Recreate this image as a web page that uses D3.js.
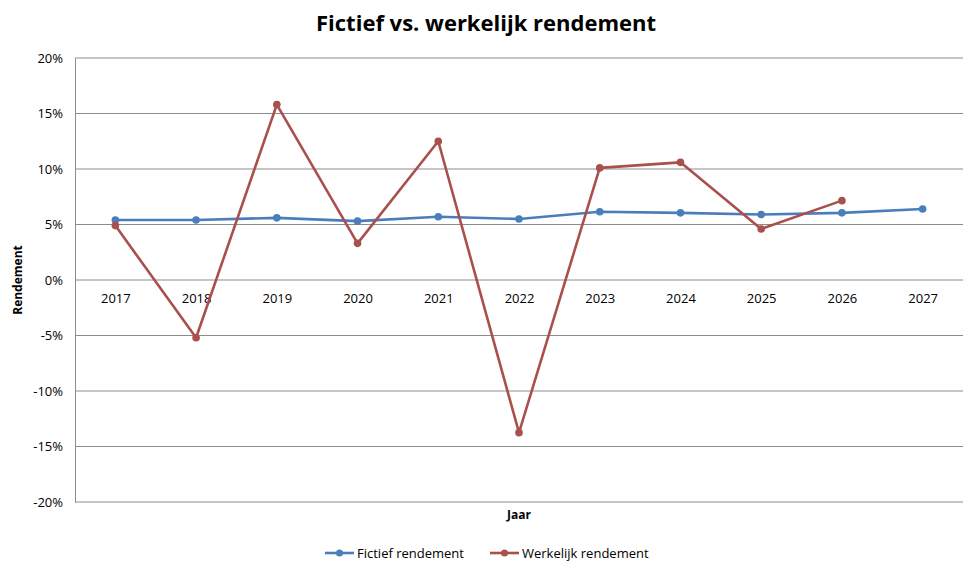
<!DOCTYPE html>
<html lang="nl">
<head>
<meta charset="utf-8">
<title>Fictief vs. werkelijk rendement</title>
<script src="https://d3js.org/d3.v7.min.js"></script>
<style>
  body { margin: 0; background: #fff; }
  svg text { font-family: "Open Sans", "Noto Sans", sans-serif; fill: #000; }
  .grid line { stroke: #8c8c8c; stroke-width: 1px; }
  .line { fill: none; stroke-width: 2.6px; stroke-linejoin: round; }
</style>
</head>
<body>
<svg width="973" height="573"></svg>
<script>
var jaren = ["2017", "2018", "2019", "2020", "2021", "2022", "2023", "2024", "2025", "2026", "2027"];
var fictief = [5.4, 5.4, 5.6, 5.3, 5.7, 5.5, 6.15, 6.05, 5.9, 6.05, 6.4];
var werkelijk = [4.9, -5.2, 15.8, 3.3, 12.5, -13.75, 10.1, 10.6, 4.6, 7.15];
var yTicks = [-20, -15, -10, -5, 0, 5, 10, 15, 20];

var series = [
  {naam: "Fictief rendement", kleur: "#4a7ebb", waarden: fictief},
  {naam: "Werkelijk rendement", kleur: "#a9504d", waarden: werkelijk}
];

var svg = d3.select("svg"),
    margin = {top: 58, right: 10, bottom: 71, left: 75},
    width = +svg.attr("width") - margin.left - margin.right,
    height = +svg.attr("height") - margin.top - margin.bottom,
    g = svg.append("g").attr("transform", "translate(" + margin.left + "," + margin.top + ")");

var x = d3.scalePoint().domain(jaren).range([0, width]).padding(0.5),
    y = d3.scaleLinear().domain([-20, 20]).range([height, 0]);

// gridlines
g.append("g").attr("class", "grid")
  .selectAll("line").data(yTicks).enter().append("line")
    .attr("x1", 0).attr("x2", width)
    .attr("y1", function(d) { return y(d); })
    .attr("y2", function(d) { return y(d); });

// y axis
var yAxis = g.append("g")
    .call(d3.axisLeft(y).tickValues(yTicks).tickSize(0).tickPadding(12)
      .tickFormat(function(d) { return d + "%"; }));
yAxis.select(".domain").attr("stroke", "#8c8c8c");
yAxis.selectAll("text").style("font-size", "13px");

// x axis at 0%
var xAxis = g.append("g")
    .attr("transform", "translate(0," + y(0) + ")")
    .call(d3.axisBottom(x).tickSize(0).tickPadding(14));
xAxis.select(".domain").remove();
xAxis.selectAll("text").style("font-size", "13px");

var line = d3.line()
    .x(function(d, i) { return x(jaren[i]); })
    .y(function(d) { return y(d); });

series.forEach(function(s) {
  g.append("path")
    .attr("class", "line")
    .attr("d", line(s.waarden))
    .style("stroke", s.kleur);
  g.selectAll(null).data(s.waarden).enter().append("circle")
    .attr("cx", function(d, i) { return x(jaren[i]); })
    .attr("cy", function(d) { return y(d); })
    .attr("r", 3.8)
    .style("fill", s.kleur);
});

// titels
svg.append("text")
  .attr("x", 486).attr("y", 31)
  .attr("text-anchor", "middle")
  .style("font-size", "22px").style("font-weight", "bold")
  .text("Fictief vs. werkelijk rendement");

svg.append("text")
  .attr("x", 519).attr("y", 519)
  .attr("text-anchor", "middle")
  .style("font-size", "12px").style("font-weight", "bold")
  .text("Jaar");

svg.append("text")
  .attr("transform", "translate(22," + (margin.top + y(0)) + ") rotate(-90)")
  .attr("text-anchor", "middle")
  .style("font-size", "12px").style("font-weight", "bold")
  .text("Rendement");

// legenda
var legX = [325, 490];
var legend = svg.append("g").attr("transform", "translate(0,553)");
series.forEach(function(s, i) {
  var lg = legend.append("g").attr("transform", "translate(" + legX[i] + ",0)");
  lg.append("line").attr("x1", 0).attr("x2", 29).attr("y1", 0).attr("y2", 0)
    .style("stroke", s.kleur).style("stroke-width", 2.6);
  lg.append("circle").attr("cx", 14.5).attr("cy", 0).attr("r", 3.5).style("fill", s.kleur);
  lg.append("text").attr("x", 32).attr("y", 4.5)
    .style("font-size", "13px")
    .text(s.naam);
});
</script>
</body>
</html>
